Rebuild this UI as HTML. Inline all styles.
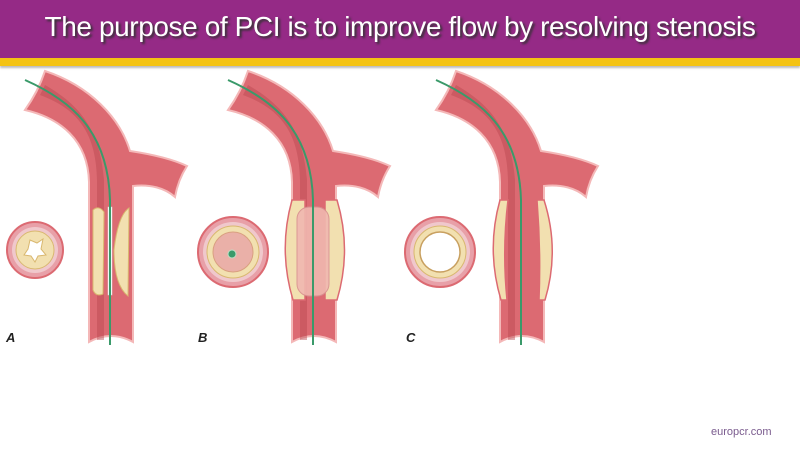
<!DOCTYPE html>
<html><head><meta charset="utf-8"><style>
body{margin:0;width:800px;height:450px;overflow:hidden;background:#fff;font-family:"Liberation Sans",sans-serif}
.hdr{position:absolute;left:0;top:0;width:800px;height:58px;background:#952a86}
.gold{position:absolute;left:0;top:58px;width:800px;height:8px;background:#f4c313;box-shadow:0 2px 2px #bbb}
.t{position:absolute;left:0;top:11px;width:800px;text-align:center;color:#fff;font-size:28px;text-shadow:2px 2px 2px #333;letter-spacing:-0.4px}
.lab{position:absolute;font:italic bold 13px "Liberation Sans",sans-serif;color:#222}
.eu{position:absolute;left:711px;top:426px;font-size:11px;color:#7a5b8e}
</style></head><body>
<div class="hdr"></div><div class="gold"></div>
<div class="t">The purpose of PCI is to improve flow by resolving stenosis</div>
<svg width="800" height="450" style="position:absolute;left:0;top:0">
<defs>
<g id="ves">
<path d="M25,110 C60,118 88,140 89,182 L89,342 Q111,330 133,342 L133,186 C150,184 165,188 175,197 Q178,180 187,166 C170,158 150,154 130,151 C120,118 90,86 45,71 Q38,92 25,110 Z" fill="#dc6a72" stroke="#f4b8b8" stroke-width="2"/>
<path d="M40,95 C75,108 96,130 97,180 L97,340 L104,340 L104,180 C100,130 80,105 45,85 Z" fill="#b84850" opacity="0.45"/>
</g>
</defs>
<!-- A -->
<use href="#ves"/>
<path d="M93,210 Q99,205 104,212 L103,294 Q96,297 93,290 Z" fill="#f2e0b0" stroke="#d9b870"/>
<path d="M129,208 Q118,215 114,250 Q114,285 128,296 Z" fill="#f2e0b0" stroke="#d9b870"/>
<rect x="108" y="207" width="4" height="88" fill="#fff" stroke="#ddd" stroke-width="0.5"/>
<path d="M25,80 C70,100 108,130 110,200 L110,345" fill="none" stroke="#3a9a6a" stroke-width="2"/>
<circle cx="35" cy="250" r="28" fill="#e8a0a8" stroke="#dc6a72" stroke-width="2"/>
<circle cx="35" cy="250" r="23" fill="#f0c8cc"/>
<circle cx="35" cy="250" r="19" fill="#f2e0b0" stroke="#d9b870"/>
<path d="M30,240 L37,243 L43,239 L41,249 L46,255 L38,256 L35,262 L31,256 L24,255 L28,249 Z" fill="#fff" stroke="#d9b870"/>
<!-- B -->
<g transform="translate(203,0)"><use href="#ves"/></g>
<path d="M292,200 Q278,250 293,300 L305,300 L305,200 Z" fill="#f2e0b0" stroke="#dc6a72" stroke-width="1.5"/>
<path d="M337,200 Q352,250 337,300 L325,300 L325,200 Z" fill="#f2e0b0" stroke="#dc6a72" stroke-width="1.5"/>
<rect x="297" y="207" width="32" height="89" rx="12" fill="#f0b8b0" stroke="#d89090" opacity="0.9"/>
<path d="M228,80 C273,100 311,130 313,200 L313,345" fill="none" stroke="#3a9a6a" stroke-width="2"/>
<circle cx="233" cy="252" r="35" fill="#e8a0a8" stroke="#dc6a72" stroke-width="2"/>
<circle cx="233" cy="252" r="30" fill="#f0c8cc"/>
<circle cx="233" cy="252" r="26" fill="#f2e0b0" stroke="#d9b870"/>
<circle cx="233" cy="252" r="20" fill="#eab0a8" stroke="#d9a080"/>
<circle cx="232" cy="254" r="4" fill="#3a9a6a" stroke="#bde0c8"/>
<!-- C -->
<g transform="translate(411,0)"><use href="#ves"/></g>
<path d="M500,200 Q486,250 501,300 L507,300 Q502,250 508,200 Z" fill="#f2e0b0" stroke="#dc6a72" stroke-width="1.5"/>
<path d="M544,200 Q560,250 545,300 L539,300 Q541,250 537,200 Z" fill="#f2e0b0" stroke="#dc6a72" stroke-width="1.5"/>
<path d="M436,80 C481,100 519,130 521,200 L521,345" fill="none" stroke="#3a9a6a" stroke-width="2"/>
<circle cx="440" cy="252" r="35" fill="#e8a0a8" stroke="#dc6a72" stroke-width="2"/>
<circle cx="440" cy="252" r="30" fill="#f0c8cc"/>
<circle cx="440" cy="252" r="26" fill="#f2e0b0" stroke="#d9b870"/>
<circle cx="440" cy="252" r="20" fill="#fff" stroke="#c8a060" stroke-width="1.5"/>
</svg>
<div class="lab" style="left:6px;top:330px">A</div>
<div class="lab" style="left:198px;top:330px">B</div>
<div class="lab" style="left:406px;top:330px">C</div>
<div class="eu">europcr.com</div>
</body></html>
